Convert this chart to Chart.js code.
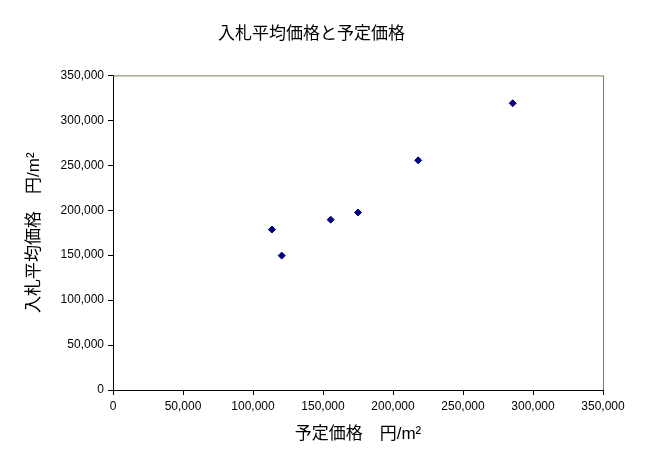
<!DOCTYPE html>
<html><head><meta charset="utf-8">
<script src="https://cdn.jsdelivr.net/npm/chart.js@4/dist/chart.umd.min.js"></script>
<style>html,body{margin:0;padding:0;background:#fff}#w{width:645px;height:471px}</style>
</head><body><div id="w"><canvas id="c"></canvas></div>
<script>
const xValues=[113500,120500,155500,175000,218000,285500];
const yValues=[178500,149500,189500,197500,255500,319000];
const titleText='入札平均価格と予定価格';
const xTitle='予定価格　円/m²';
const yTitle='入札平均価格　円/m²';
const F="'Liberation Sans','Noto Sans CJK JP',sans-serif";
const frame={id:'frame',afterDraw(c){const a=c.chartArea,g=c.ctx;g.save();g.strokeStyle='#7a7a5a';g.lineWidth=1;g.beginPath();g.moveTo(a.left,a.top+0.5);g.lineTo(a.right+0.5,a.top+0.5);g.lineTo(a.right+0.5,a.bottom);g.stroke();g.restore();}};
new Chart(document.getElementById('c'),{type:'scatter',
data:{datasets:[{data:xValues.map((x,i)=>({x,y:yValues[i]})),backgroundColor:'#000080',borderColor:'#000080',pointStyle:'rectRot',pointRadius:3.5}]},
options:{responsive:true,maintainAspectRatio:false,animation:false,
layout:{padding:{right:42,top:0,left:20,bottom:22}},
plugins:{legend:{display:false},tooltip:{enabled:false},
title:{display:true,text:titleText,color:'#000',font:{family:F,size:17,weight:'normal'},padding:{top:24,bottom:31}}},
scales:{
x:{type:'linear',min:0,max:350000,afterFit(s){s.height=59;},
ticks:{stepSize:50000,color:'#000',font:{family:F,size:12},callback:v=>v.toLocaleString('en-US'),maxRotation:0,padding:4},
grid:{drawOnChartArea:false,color:'#000',tickLength:5},border:{color:'#000'},
title:{display:true,text:xTitle,color:'#000',font:{family:F,size:17},padding:{top:8}}},
y:{min:0,max:350000,afterFit(s){s.width=93;},
ticks:{stepSize:50000,color:'#000',font:{family:F,size:12},callback:v=>v.toLocaleString('en-US'),padding:4},
grid:{drawOnChartArea:false,color:'#000',tickLength:5},border:{color:'#000'},
title:{display:true,text:yTitle,color:'#000',font:{family:F,size:17},padding:{bottom:8}}}}},
plugins:[frame]});
</script></body></html>
